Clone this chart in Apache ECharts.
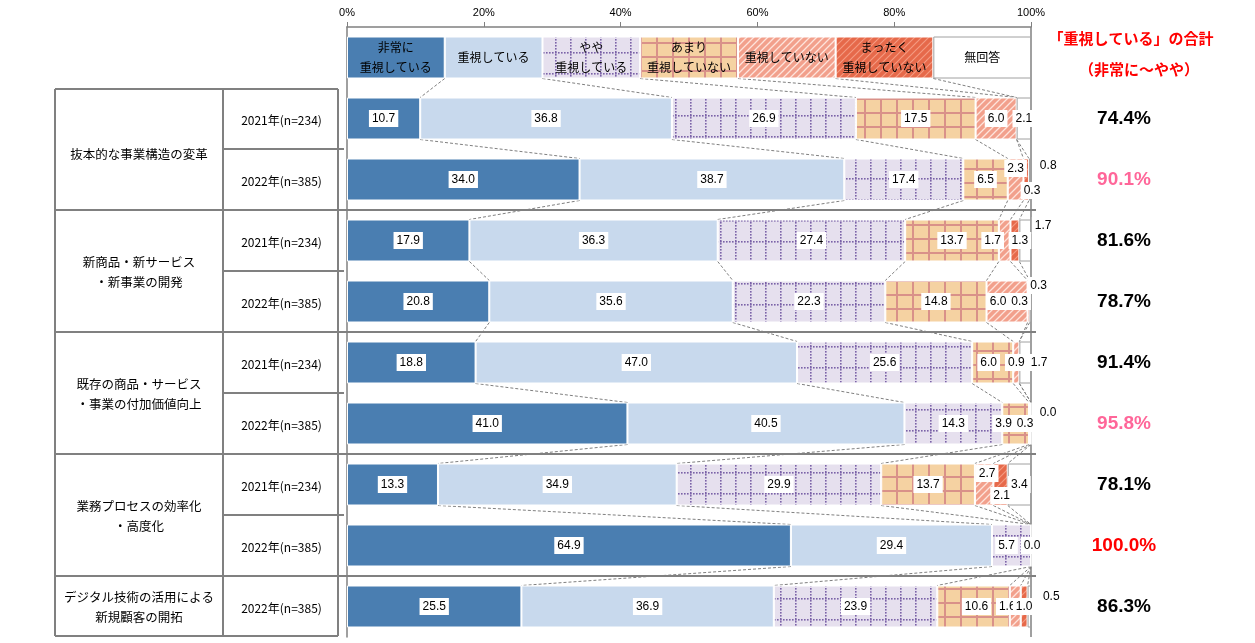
<!DOCTYPE html>
<html><head><meta charset="utf-8">
<script src="https://cdn.jsdelivr.net/npm/echarts@6/dist/echarts.min.js"></script>
<style>html,body{margin:0;padding:0;background:#fff}#c{width:1255px;height:643px}</style>
</head><body><div id="c"></div>
<script>
// ---------------- DATA ----------------
const seriesNames = ['非常に\n重視している','重視している','やや\n重視している','あまり\n重視していない','重視していない','まったく\n重視していない','無回答'];
const groupNames = ['抜本的な事業構造の変革','新商品・新サービス\n・新事業の開発','既存の商品・サービス\n・事業の付加価値向上','業務プロセスの効率化\n・高度化','デジタル技術の活用による\n新規顧客の開拓'];
const rowLabels = ['2021年(n=234)','2022年(n=385)','2021年(n=234)','2022年(n=385)','2021年(n=234)','2022年(n=385)','2021年(n=234)','2022年(n=385)','2022年(n=385)'];
const rowGroup = [0,0,1,1,2,2,3,3,4];
const hijouni   = [10.7, 34.0, 17.9, 20.8, 18.8, 41.0, 13.3, 64.9, 25.5];
const juushi    = [36.8, 38.7, 36.3, 35.6, 47.0, 40.5, 34.9, 29.4, 36.9];
const yaya      = [26.9, 17.4, 27.4, 22.3, 25.6, 14.3, 29.9,  5.7, 23.9];
const amari     = [17.5,  6.5, 13.7, 14.8,  6.0,  3.9, 13.7,  0.0, 10.6];
const juushiNai = [ 6.0,  2.3,  1.7,  6.0,  0.9,  0.3,  2.7, null,  1.6];
const mattaku   = [null,  0.8,  1.3,  0.3, null,  0.0,  2.1, null,  1.0];
const mukaitou  = [ 2.1,  0.3,  1.7,  0.3,  1.7, null,  3.4, null,  0.5];
const totals    = [74.4, 90.1, 81.6, 78.7, 91.4, 95.8, 78.1, 100.0, 86.3];
const keyRow    = [14.29, 14.29, 14.29, 14.29, 14.28, 14.28, 14.28]; // legend strip segments
const xTicks = [0, 20, 40, 60, 80, 100];
const seriesValues = [hijouni, juushi, yaya, amari, juushiNai, mattaku, mukaitou];

// ---------------- STYLE ----------------
const GL = 347, GR = 1031, GT = 27, ROW = 61, NR = 10, BW = 42;
const totalColor = ['#000','#FF6699','#000','#000','#000','#FF6699','#000','#FF0000','#000'];
const labelOffsets = {
  '1_4':[0,-11], '1_5':[22,-14], '1_6':[2,11],
  '2_4':[-12,0], '2_5':[5,0], '2_6':[18,-15],
  '3_4':[-9,0], '3_5':[-9,0], '3_6':[8,-16],
  '4_3':[-4,0], '4_6':[14,0],
  '5_3':[-12,0], '5_4':[-5,0], '5_5':[17,-11],
  '6_4':[3,-11], '6_5':[1,11],
  '7_2':[-5,0], '7_3':[1,0],
  '8_3':[3,0], '8_4':[-8,0], '8_6':[22,-10]
};
function mk(w,h,draw){const c=document.createElement('canvas');c.width=w;c.height=h;draw(c.getContext('2d'));return c;}
const patYaya = mk(15,21,ctx=>{ctx.fillStyle='#E6E0EE';ctx.fillRect(0,0,15,21);ctx.fillStyle='#7B62A8';
  for(let y=0;y<21;y+=3)ctx.fillRect(0,y,1.6,1.6);
  for(let x=0;x<15;x+=3)ctx.fillRect(x,10,1.6,1.6);});
const patAmari = mk(16,14,ctx=>{ctx.fillStyle='#F5D2A2';ctx.fillRect(0,0,16,14);ctx.fillStyle='#D99189';
  ctx.fillRect(0,0,2,14);ctx.fillRect(0,0,16,2);});
function hatch(base,stripe,lw){return mk(7,7,ctx=>{ctx.fillStyle=base;ctx.fillRect(0,0,7,7);ctx.strokeStyle=stripe;ctx.lineWidth=lw;
  ctx.beginPath();ctx.moveTo(0,7);ctx.lineTo(7,0);ctx.moveTo(-1,1);ctx.lineTo(1,-1);ctx.moveTo(6,8);ctx.lineTo(8,6);ctx.stroke();});}
const patNai = hatch('#F2A08C','rgba(255,235,228,0.9)',1.3);
const patMattaku = hatch('#E6694A','rgba(245,160,135,0.9)',1.2);
const fills = ['#4A7EB1','#C8D9ED',{image:patYaya,repeat:'repeat'},{image:patAmari,repeat:'repeat'},{image:patNai,repeat:'repeat'},{image:patMattaku,repeat:'repeat'},'#FFFFFF'];
const borders = ['#fff','#fff','#fff','#fff','#fff','#fff','#A0A0A0'];
const NUMF = '"Liberation Sans", Arial, "Noto Sans CJK JP", sans-serif';
const JPF = '"Noto Sans CJK JP", sans-serif';

const cats = ['key'].concat(rowLabels.map((r,i)=>'r'+i));
const allRows = [keyRow].concat(rowLabels.map((_,i)=>seriesValues.map(s=>s[i])));

const series = seriesValues.map((vals, si) => ({
  type:'bar', name: seriesNames[si].replace('\n',''), stack:'t', barWidth: BW,
  itemStyle:{color: fills[si], borderColor: borders[si], borderWidth: 1},
  label:{show:true, position:'inside', color:'#000', fontSize:12, fontFamily:NUMF,
    backgroundColor:'#fff', padding:[3,3,2,3],
    formatter: p => (p.value==null ? '' : Number(p.value).toFixed(1))},
  z: 3,
  data: [{value: keyRow[si], label:{formatter: seriesNames[si], backgroundColor:'transparent', padding:0,
           fontSize:12, lineHeight:20, fontFamily:JPF, color:'#000'}}]
    .concat(vals.map((v,ri)=>{
      const o = labelOffsets[ri+'_'+si];
      return o ? {value:v, label:{offset:o}} : {value:v};
    }))
}));

// series (connector) lines
series.push({
  type:'custom', z:1, clip:false, silent:true,
  data: allRows.slice(0,-1).map((_,r)=>[0,r]),
  encode:{x:0,y:1},
  renderItem:(params, api)=>{
    const r = params.dataIndex, a = allRows[r], b = allRows[r+1];
    let ca=0, cb=0; const children=[];
    for(let j=0;j<6;j++){
      ca += a[j]||0; cb += b[j]||0;
      const p1 = api.coord([ca, r]), p2 = api.coord([cb, r+1]);
      children.push({type:'line', shape:{x1:p1[0], y1:p1[1]+BW/2, x2:p2[0], y2:p2[1]-BW/2},
        style:{stroke:'#808080', lineWidth:1, lineDash:[3,2]}});
    }
    return {type:'group', children};
  }
});
// totals on the right
series.push({
  type:'custom', z:5, clip:false, silent:true,
  data: totals.map((t,i)=>[100, i+1, t]),
  encode:{x:0,y:1},
  renderItem:(params, api)=>{
    const p = api.coord([api.value(0), api.value(1)]);
    return {type:'text', x:p[0]+93, y:p[1], style:{text: api.value(2).toFixed(1)+'%',
      fill: totalColor[params.dataIndex], font:'bold 19px '+NUMF, align:'center', verticalAlign:'middle'}};
  }
});

// ---------------- TABLE GRAPHICS ----------------
const g = [];
const LINE = '#808080';
const yB = k => GT + ROW*k;          // boundary above category k
const yC = k => GT + ROW*k + ROW/2;  // category centre
const TL = 55, TM = 223, TR = 338;
function hl(x1,x2,y,w){g.push({type:'line',shape:{x1,y1:y,x2,y2:y},style:{stroke:LINE,lineWidth:w||2}});}
function vl(x,y1,y2,w){g.push({type:'line',shape:{x1:x,y1,x2:x,y2},style:{stroke:LINE,lineWidth:w||2}});}
const tTop = yB(1)+1, tBot = yB(NR)-1;
vl(TL,tTop,tBot); vl(TM,tTop,tBot); vl(TR,tTop,tBot);
hl(TL,TR,tTop); hl(TL,TR,tBot);
for(let k=2;k<NR;k++){
  const ri = k-1; // data row index of category k
  if(rowGroup[ri]!==rowGroup[ri-1]) hl(TL,GR+5,yB(k)); else hl(TM,TR+6,yB(k));
}
// right border of plot
vl(GR, GT, yB(NR), 1.5);
rowLabels.forEach((t,i)=>g.push({type:'text',x:(TM+TR)/2+1,y:yC(i+1)+2,style:{text:t,font:'12px '+JPF,fill:'#000',align:'center',verticalAlign:'middle'}}));
groupNames.forEach((t,gi)=>{
  const rows = rowGroup.map((v,i)=>v===gi?i:-1).filter(i=>i>=0);
  const yc = (yB(rows[0]+1)+yB(rows[rows.length-1]+2))/2 + (t.indexOf('\n')<0 && rows.length>1 ? 5 : 1);
  g.push({type:'text',x:(TL+TM)/2,y:yc,style:{text:t,font:'12.5px '+JPF,fill:'#000',align:'center',verticalAlign:'middle',lineHeight:20}});
});
g.push({type:'text',x:1131,y:38,style:{text:'「重視している」の合計',font:'bold 15px '+JPF,fill:'#FF0000',align:'center',verticalAlign:'middle'}});
g.push({type:'text',x:1139,y:69,style:{text:'（非常に～やや）',font:'bold 15px '+JPF,fill:'#FF0000',align:'center',verticalAlign:'middle'}});

const chart = echarts.init(document.getElementById('c'), null, {renderer:'canvas'});
chart.setOption({
  animation:false,
  backgroundColor:'#fff',
  grid:{left:GL, right:1255-GR, top:GT, height:ROW*NR},
  xAxis:{type:'value', position:'top', min:0, max:100, interval:20,
    axisLine:{show:true, lineStyle:{color:'#808080', width:1.5}},
    axisTick:{show:true, length:5, lineStyle:{color:'#808080'}},
    splitLine:{show:false},
    axisLabel:{formatter:'{value}%', fontSize:11, color:'#000', fontFamily:NUMF, margin:9,
      customValues: xTicks}},
  yAxis:{type:'category', data:cats, inverse:true,
    axisLine:{show:true, lineStyle:{color:'#808080', width:1.5}},
    axisTick:{show:false}, axisLabel:{show:false}, splitLine:{show:false}},
  series,
  graphic: g
});
</script></body></html>
